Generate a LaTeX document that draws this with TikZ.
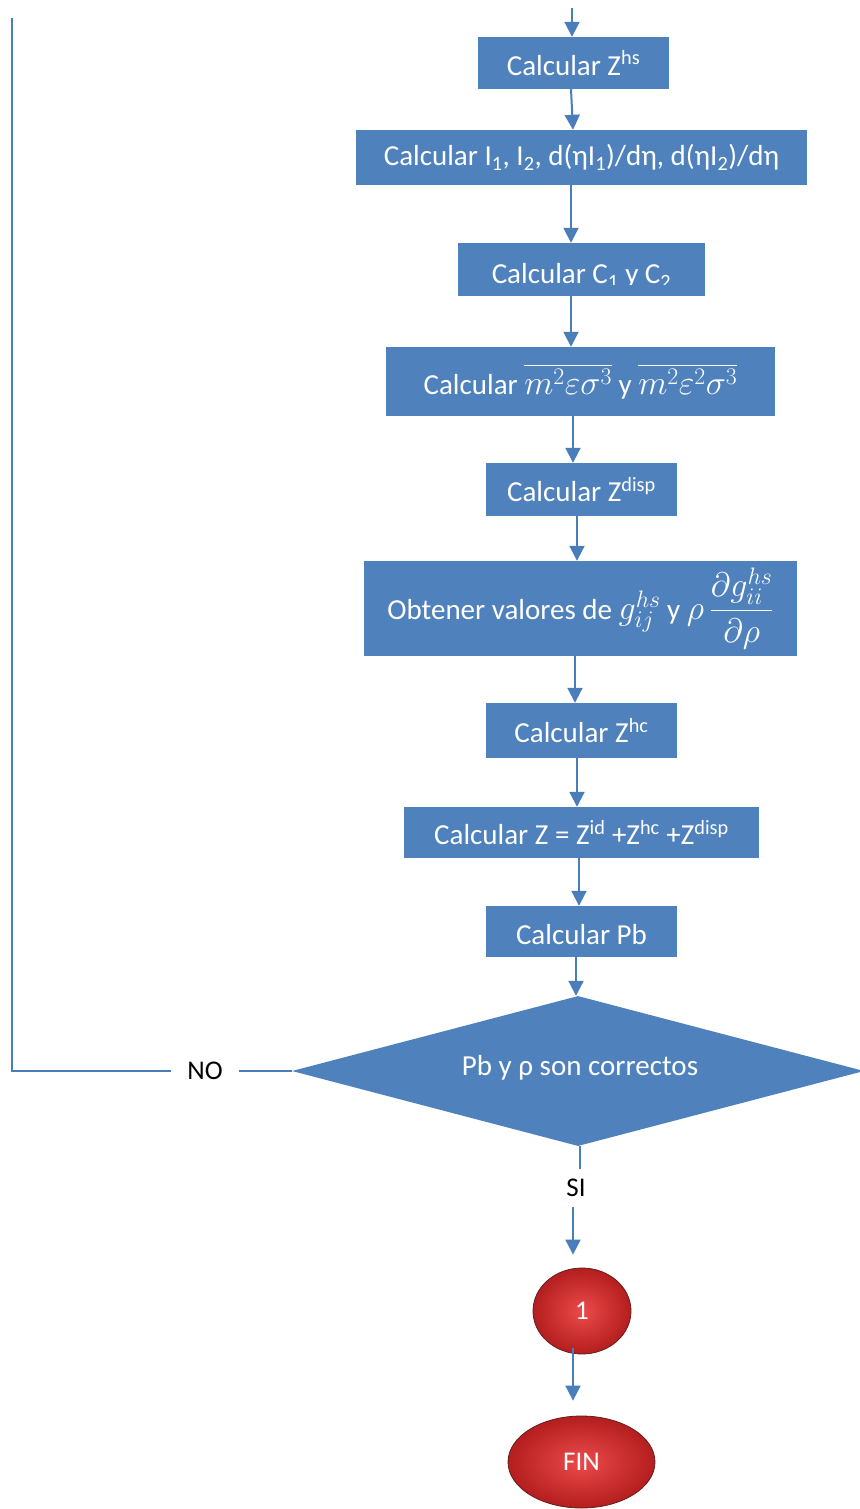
\RequirePackage{fix-cm}
\documentclass[tikz,border=0pt]{standalone}
\usepackage{amsmath}
\usepackage{fontspec}
\setmainfont{Carlito}
\usetikzlibrary{shapes.geometric,arrows.meta}

\definecolor{boxblue}{HTML}{4F81BD}
\definecolor{linkblue}{HTML}{4A7EBB}
\definecolor{redin}{RGB}{236,74,74}
\definecolor{redout}{RGB}{180,30,30}
\definecolor{redrim}{RGB}{100,30,30}

% larger setting for the formulas inside the boxes
\newcommand{\bigmath}[1]{{\fontsize{34}{38}\selectfont$#1$}}

\tikzset{
  stepbox/.style={draw=none, fill=boxblue, text=white, inner sep=0pt,
    font=\fontsize{29}{34}\selectfont},
  arr/.style={draw=linkblue, line width=2pt,
    -{Triangle[width=15pt,length=15pt]}},
  plain/.style={draw=linkblue, line width=1.8pt},
  loopline/.style={draw=linkblue, line width=1.6pt},
  redball/.style={ellipse, shade, inner color=redin, outer color=redout,
    draw=redrim, line width=0.8pt, text=white, inner sep=0pt,
    font=\fontsize{27}{30}\selectfont},
  lbl/.style={text=black, font=\fontsize{27}{32}\selectfont, inner sep=0pt}
}

\begin{document}
\begin{tikzpicture}[x=1pt,y=-1pt]
\useasboundingbox (0,0) rectangle (859,1509);

% process steps
\node[stepbox, minimum width=191pt, minimum height=52pt] (b1) at (573.5,63)
  {Calcular Z\textsuperscript{hs}};
\node[stepbox, minimum width=451pt, minimum height=55pt] (b2) at (581.5,157.5)
  {Calcular I\textsubscript{1}, I\textsubscript{2}, d(ηI\textsubscript{1})/dη, d(ηI\textsubscript{2})/dη};
\node[stepbox, minimum width=247pt, minimum height=53pt] (b3) at (581.5,269.5) {};
\begin{scope}
  \clip (458,243) rectangle (705,284);
  \node[stepbox, fill=none] (b3text) at (581.5,276) {Calcular C\textsubscript{1} y C\textsubscript{2}};
\end{scope}
\node[stepbox, minimum width=389pt, minimum height=69pt] (b4) at (580.5,381.5)
  {Calcular \bigmath{\overline{m^2\varepsilon\sigma^3}} y \bigmath{\overline{m^2\varepsilon^2\sigma^3}}};
\node[stepbox, minimum width=191pt, minimum height=53pt] (b5) at (581.5,489.5)
  {Calcular Z\textsuperscript{disp}};
\node[stepbox, minimum width=433pt, minimum height=95pt] (b6) at (580.5,608.5)
  {Obtener valores de \bigmath{g_{ij}^{hs}} y \bigmath{\rho\,\dfrac{\partial g_{ii}^{hs}}{\partial\rho}}};
\node[stepbox, minimum width=191pt, minimum height=55pt] (b7) at (581.5,730.5)
  {Calcular Z\textsuperscript{hc}};
\node[stepbox, minimum width=355pt, minimum height=51pt] (b8) at (581.5,832.5)
  {Calcular Z = Z\textsuperscript{id} +Z\textsuperscript{hc} +Z\textsuperscript{disp}};
\node[stepbox, minimum width=191pt, minimum height=51pt] (b9) at (581.5,931.5) {};
\node[stepbox, fill=none] (b9text) at (581.5,935) {Calcular Pb};

% decision
\node[diamond, fill=boxblue, inner sep=0pt, minimum width=572pt,
  minimum height=150pt] (dia) at (578,1071) {};
\node[stepbox, fill=none] (diatext) at (580,1068) {Pb y ρ son correctos};

% branch labels
\node[lbl, inner xsep=16pt] (no) at (205,1071) {NO};
\node[lbl, inner ysep=10pt] (si) at (576,1188) {SI};

% terminators
\node[redball, minimum width=98pt, minimum height=86pt] (c1) at (582,1311) {1};
\node[redball, minimum width=147pt, minimum height=92pt] (fin) at (581.5,1462) {FIN};

% loop back to the top of the iteration
\coordinate (entry) at (572,8);
\coordinate (looptop) at (12,18);

% connectors
\draw[arr] (entry) -- ([xshift=-1.5pt]b1.north);
\draw[arr] ([xshift=-2.5pt]b1.south) -- ([xshift=-8.5pt]b2.north);
\draw[arr] ([xshift=-10.5pt]b2.south) -- ([xshift=-10.5pt]b3.north);
\draw[arr] ([xshift=-10.5pt]b3.south) -- ([xshift=-9.5pt]b4.north);
\draw[arr] ([xshift=-7.5pt]b4.south) -- ([xshift=-8.5pt]b5.north);
\draw[arr] ([xshift=-4.5pt]b5.south) -- ([xshift=-3.5pt]b6.north);
\draw[arr] ([xshift=-5.5pt]b6.south) -- ([xshift=-6.5pt]b7.north);
\draw[arr] ([xshift=-4.5pt]b7.south) -- ([xshift=-4.5pt]b8.north);
\draw[arr] ([xshift=-2.5pt]b8.south) -- ([xshift=-2.5pt]b9.north);
\draw[arr] ([xshift=-5.5pt]b9.south) -- ([xshift=-2pt]dia.north);

\draw[plain] ([xshift=2pt]dia.south) -- ([xshift=4pt]si.north);
\draw[arr, shorten >=13pt] ([xshift=-3pt]si.south) -- ([xshift=-9pt]c1.north);
\draw[arr, shorten <=-6pt, shorten >=15pt] ([xshift=-9pt]c1.south) -- ([xshift=-8.5pt]fin.north);

\draw[loopline] (dia.west) -- (no.east);
\draw[loopline] (no.west) -| (looptop);
\end{tikzpicture}
\end{document}
